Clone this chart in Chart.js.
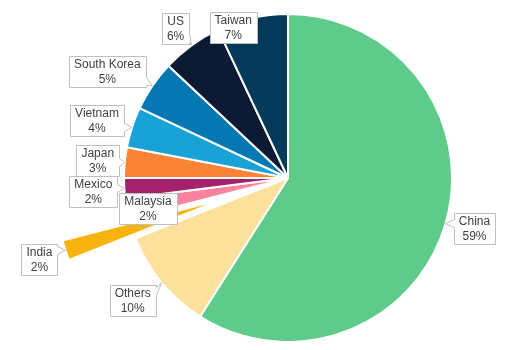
<!DOCTYPE html>
<html>
<head>
<meta charset="utf-8">
<script src="https://cdn.jsdelivr.net/npm/chart.js@4"></script>
<style>
  body { margin: 0; background: #fff; }
</style>
</head>
<body>
<canvas id="myChart" width="518" height="350"></canvas>
<script>
// Chart data
const countries = ["China", "Others", "India", "Malaysia", "Mexico", "Japan", "Vietnam", "South Korea", "US", "Taiwan"];
const shares = [59, 10, 2, 2, 2, 3, 4, 5, 6, 7];
const sliceColors = ["#5ecb8a", "#fbe19c", "#f9b30f", "#f7849c", "#a4226b", "#f98436", "#18a2d6", "#0577b2", "#0c1a34", "#043a59"];
const explode = [0, 0, 70, 0, 0, 0, 0, 0, 0, 0];

// where each callout box sits, relative to its slice's outer edge
const calloutShift = [[29, 5], [-29, 18], [-26, 9], [21, 0], [-31, 3], [-27, -2], [-35, -7], [-45, -14], [-16, -17], [-19, 10]];

// Chart.js "offset" also grows the slice, so pull the exploded slice out
// by moving its centre instead and keep the radius as it is
const arcDraw = Chart.ArcElement.prototype.draw;
Chart.ArcElement.prototype.draw = function (ctx) {
  const i = this.$context ? this.$context.dataIndex : -1;
  const d = explode[i] || 0;
  if (!d) return arcDraw.call(this, ctx);
  const half = (this.startAngle + this.endAngle) / 2;
  const x = this.x, y = this.y;
  this.x = x + Math.cos(half) * d;
  this.y = y + Math.sin(half) * d;
  arcDraw.call(this, ctx);
  this.x = x;
  this.y = y;
};

const calloutPlugin = {
  id: "callouts",
  afterDatasetsDraw(chart) {
    const ctx = chart.ctx;
    const arcs = chart.getDatasetMeta(0).data;
    ctx.save();
    ctx.font = "12px 'Liberation Sans', Arial, sans-serif";
    ctx.textAlign = "center";
    ctx.textBaseline = "middle";
    arcs.forEach((arc, i) => {
      const mid = (arc.startAngle + arc.endAngle) / 2;
      const r = arc.outerRadius + explode[i];
      const ax = arc.x + Math.cos(mid) * r;
      const ay = arc.y + Math.sin(mid) * r;
      const cx = ax + calloutShift[i][0];
      const cy = ay + calloutShift[i][1];
      const line1 = countries[i];
      const line2 = shares[i] + "%";
      const w = Math.max(ctx.measureText(line1).width, ctx.measureText(line2).width) + 10;
      const h = 31;
      const L = Math.round(cx - w / 2) + 0.5, R = Math.round(cx + w / 2) + 0.5;
      const T = Math.round(cy - h / 2) + 0.5, B = Math.round(cy + h / 2) + 0.5;

      // pointer toward the slice, unless the anchor is inside the box
      const inside = ax > L && ax < R && ay > T && ay < B;
      let side = null;
      if (!inside) {
        const ddx = ax - cx, ddy = ay - cy;
        if (Math.abs(ddx) / w > Math.abs(ddy) / h) side = ddx > 0 ? "right" : "left";
        else side = ddy > 0 ? "bottom" : "top";
      }
      const clamp = (v, a, b) => Math.min(Math.max(v, a), b);
      const lim = (v, edge, dir) => dir > 0 ? Math.min(v, edge + 9) : Math.max(v, edge - 9);

      ctx.beginPath();
      ctx.moveTo(L, T);
      if (side === "top") {
        const bx = clamp(ax, L + 6, R - 6);
        ctx.lineTo(bx - 4, T); ctx.lineTo(clamp(ax, L - 6, R + 6), lim(ay, T, -1)); ctx.lineTo(bx + 4, T);
      }
      ctx.lineTo(R, T);
      if (side === "right") {
        const by = clamp(ay, T + 6, B - 6);
        ctx.lineTo(R, by - 4); ctx.lineTo(lim(ax, R, 1), clamp(ay, T - 6, B + 6)); ctx.lineTo(R, by + 4);
      }
      ctx.lineTo(R, B);
      if (side === "bottom") {
        const bx = clamp(ax, L + 6, R - 6);
        ctx.lineTo(bx + 4, B); ctx.lineTo(clamp(ax, L - 6, R + 6), lim(ay, B, 1)); ctx.lineTo(bx - 4, B);
      }
      ctx.lineTo(L, B);
      if (side === "left") {
        const by = clamp(ay, T + 6, B - 6);
        ctx.lineTo(L, by + 4); ctx.lineTo(lim(ax, L, -1), clamp(ay, T - 6, B + 6)); ctx.lineTo(L, by - 4);
      }
      ctx.closePath();
      ctx.fillStyle = "#ffffff";
      ctx.fill();
      ctx.strokeStyle = "#bfbfbf";
      ctx.lineWidth = 1;
      ctx.stroke();

      ctx.fillStyle = "#404040";
      ctx.fillText(line1, cx, cy - 7);
      ctx.fillText(line2, cx, cy + 8);
    });
    ctx.restore();
  }
};

const ctx = document.getElementById("myChart");
const myChart = new Chart(ctx, {
  type: "pie",
  data: {
    labels: countries,
    datasets: [{
      data: shares,
      backgroundColor: sliceColors,
      borderColor: "#ffffff",
      borderWidth: 2
    }]
  },
  options: {
    responsive: false,
    animation: false,
    radius: 164,
    layout: { padding: { left: 60, right: 2, top: 8, bottom: 2 } },
    plugins: {
      legend: { display: false },
      tooltip: { enabled: false }
    }
  },
  plugins: [calloutPlugin]
});
</script>
</body>
</html>
